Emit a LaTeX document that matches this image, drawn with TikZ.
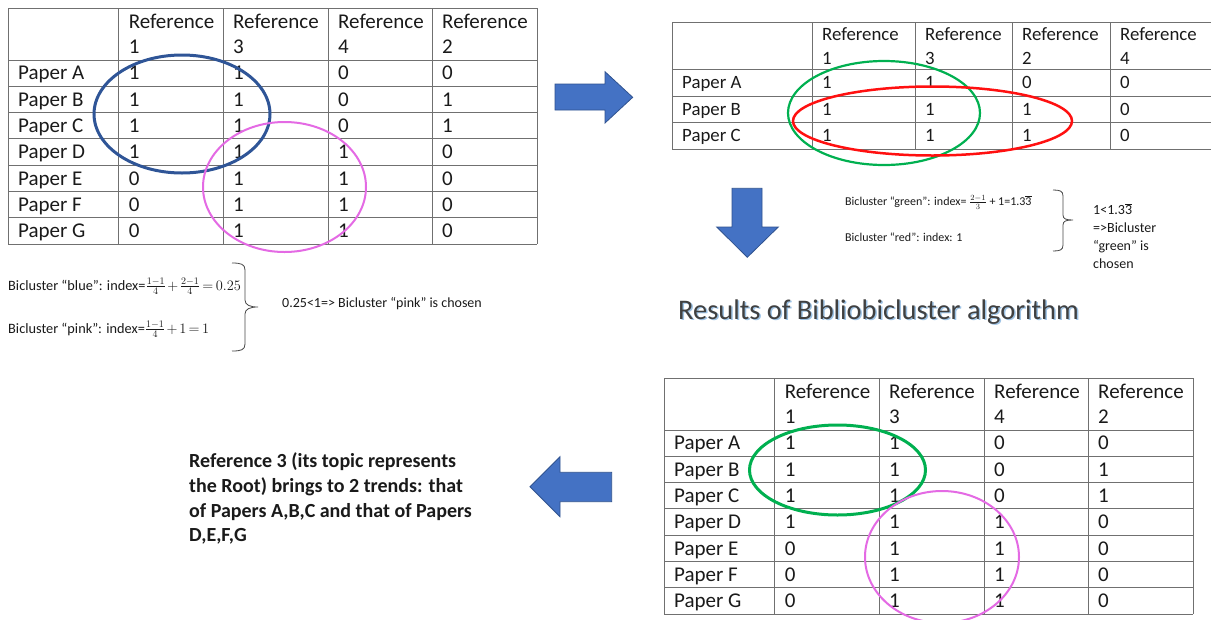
\documentclass[tikz,border=0pt]{standalone}
\usepackage{fontspec}
\setmainfont{Carlito}
\definecolor{gridline}{HTML}{707070}
\definecolor{txt}{HTML}{1A1A1A}
\definecolor{arrowfill}{HTML}{4472C4}
\definecolor{arrowline}{HTML}{2F528F}
\definecolor{ellblue}{HTML}{2F5597}
\definecolor{ellpink}{HTML}{E46AE4}
\definecolor{ellgreen}{HTML}{00B050}
\definecolor{ellred}{HTML}{FF1010}
\definecolor{titlegray}{HTML}{404040}
\definecolor{titleglow}{HTML}{9DC3E6}
\newcommand{\tightmath}[1]{{\medmuskip=2mu\thickmuskip=3mu$#1$}}
\tikzset{
  gridrule/.style={draw=gridline, line width=0.8pt},
  cellbig/.style={anchor=base west, inner sep=0pt, text=txt, font=\fontsize{21}{25}\selectfont},
  cellsmall/.style={anchor=base west, inner sep=0pt, text=txt, font=\fontsize{18.8}{23}\selectfont},
  formula/.style={anchor=base west, inner sep=0pt, text=txt, font=\fontsize{14.3}{17}\selectfont},
  choicetext/.style={anchor=base west, inner sep=0pt, text=txt, font=\fontsize{14}{17}\selectfont},
  formulasmall/.style={anchor=base west, inner sep=0pt, text=txt, font=\fontsize{12}{15}\selectfont},
  bigarrow/.style={fill=arrowfill, draw=arrowline, line width=0.8pt, line join=miter},
  bracepath/.style={draw=txt!80, line width=0.8pt},
  remark/.style={anchor=base west, inner sep=0pt, text=txt, font=\bfseries\fontsize{20}{24.5}\selectfont},
}
\newcommand{\bigbibtable}[1]{%
  \foreach \yy in {0,52,78.29,104.57,130.86,157.14,183.43,209.71,236} {\draw[gridrule] (0,\yy) -- (529,\yy);}
  \foreach \xx in {0,110.6,215,320,424,529} {\draw[gridrule] (\xx,0) -- (\xx,236);}
  \foreach \hn/\hx [count=\k] in {1/120.6,3/225,4/330,2/434} {
    \node[cellbig] (#1-h\k) at (\hx,20.8) {Reference};
    \node[cellbig] (#1-n\k) at (\hx,45.8) {\hn};
  }
  \foreach \p/\va/\vb/\vc/\vd [count=\r] in {A/1/1/0/0,B/1/1/0/1,C/1/1/0/1,D/1/1/1/0,E/0/1/1/0,F/0/1/1/0,G/0/1/1/0} {
    \pgfmathsetmacro{\by}{52+(\r-0.5)*26.286+6.8}
    \node[cellbig] (#1-p\r) at (10,\by) {Paper \p};
    \node[cellbig] (#1-\r-1) at (120.6,\by) {\va};
    \node[cellbig] (#1-\r-2) at (225,\by) {\vb};
    \node[cellbig] (#1-\r-3) at (330,\by) {\vc};
    \node[cellbig] (#1-\r-4) at (434,\by) {\vd};
  }
}
\begin{document}
\begin{tikzpicture}[x=1pt,y=-1pt]
\useasboundingbox (0,0) rectangle (1211,619);
\fill[white] (0,0) rectangle (1211,619);

% ---------- top-left table ----------
\begin{scope}[shift={(8,8)}]
  \bigbibtable{tl}
\end{scope}
\draw[ellblue, line width=3pt] (182,114) ellipse [x radius=88pt, y radius=59pt];
\draw[ellpink, line width=2pt] (284.5,187) ellipse [x radius=81.5pt, y radius=65pt];

% ---------- formulas left ----------
\node[formula] (fblue) at (8,290) {Bicluster “blue”: index=\tightmath{\frac{1-1}{4}+\frac{2-1}{4}=0.25}};
\node[formula] (fpink) at (8,333) {Bicluster “pink”: index=\tightmath{\frac{1-1}{4}+1=1}};
\draw[bracepath] (232,263) .. controls (241,263) and (245,264) .. (245,270) -- (245,300)
  .. controls (245,305) and (250,307) .. (258,307)
  .. controls (250,307) and (245,309) .. (245,314) -- (245,344)
  .. controls (245,350) and (241,351) .. (232,351);
\node[choicetext] (fchoice) at (282,307) {0.25<1=> Bicluster “pink” is chosen};

% ---------- right arrow ----------
\draw[bigarrow] (555,84) -- (605,84) -- (605,71.7) -- (632.7,97.3) -- (605,123) -- (605,110) -- (555,110) -- cycle;

% ---------- top-right table ----------
\begin{scope}[shift={(672,22)}]
  \foreach \yy in {0,47.5,74,100.5,127} {\draw[gridrule] (0,\yy) -- (539,\yy);}
  \foreach \xx in {0,140,243,340,438} {\draw[gridrule] (\xx,0) -- (\xx,127);}
  \foreach \hn/\hx [count=\k] in {1/150,3/253,2/350,4/448} {
    \node[cellsmall] (tr-h\k) at (\hx,18) {Reference};
    \node[cellsmall] (tr-n\k) at (\hx,42.3) {\hn};
  }
  \foreach \p/\va/\vb/\vc/\vd [count=\r] in {A/1/1/0/0,B/1/1/1/0,C/1/1/1/0} {
    \pgfmathsetmacro{\by}{47.5+(\r-0.5)*26.5+6}
    \node[cellsmall] (tr-p\r) at (10,\by) {Paper \p};
    \node[cellsmall] (tr-\r-1) at (150,\by) {\va};
    \node[cellsmall] (tr-\r-2) at (253,\by) {\vb};
    \node[cellsmall] (tr-\r-3) at (350,\by) {\vc};
    \node[cellsmall] (tr-\r-4) at (448,\by) {\vd};
  }
\end{scope}
\draw[ellgreen, line width=2.2pt] (884,113) ellipse [x radius=96pt, y radius=52pt];
\draw[ellred, line width=2.5pt] (932.5,121) ellipse [x radius=139.5pt, y radius=34.5pt];

% ---------- down arrow ----------
\draw[bigarrow] (732,188.3) -- (762,188.3) -- (762,227) -- (778.3,227) -- (747.3,257.3) -- (716.7,227) -- (732,227) -- cycle;

% ---------- formulas right ----------
\node[formulasmall] (fgreen) at (845,205) {Bicluster “green”: index= $\frac{2-1}{3}$ + 1=1.3$\overline{\mbox{3}}$};
\node[formulasmall] (fred) at (845,241) {Bicluster “red”: index: 1};
\draw[bracepath] (1053,190) .. controls (1060,190) and (1063,191) .. (1063,196) -- (1063,215)
  .. controls (1063,219) and (1066,220) .. (1073,220)
  .. controls (1066,220) and (1063,221) .. (1063,225) -- (1063,245)
  .. controls (1063,250) and (1060,251) .. (1053,251);
\node[choicetext] (rc1) at (1093,214.5) {1<1.3$\overline{\mbox{3}}$};
\node[choicetext] (rc2) at (1093,232.5) {=>Bicluster};
\node[choicetext] (rc3) at (1093,250.5) {“green” is};
\node[choicetext] (rc4) at (1093,268.5) {chosen};

% ---------- title ----------
\node[anchor=base west, inner sep=0pt, text=titleglow, font=\fontsize{28.4}{34}\selectfont] (titleshadow) at (679.5,320.5) {Results of Bibliobicluster algorithm};
\node[anchor=base west, inner sep=0pt, text=titlegray, font=\fontsize{28.4}{34}\selectfont] (title) at (678,319) {Results of Bibliobicluster algorithm};

% ---------- bottom-right table ----------
\begin{scope}[shift={(664,378)}]
  \bigbibtable{br}
\end{scope}
\draw[ellgreen, line width=3pt] (837.5,470) ellipse [x radius=88pt, y radius=45pt];
\draw[ellpink, line width=2pt] (942,557) ellipse [x radius=77pt, y radius=66pt];

% ---------- left arrow ----------
\draw[bigarrow] (611.7,472.3) -- (560,472.3) -- (560,456.7) -- (530,486.7) -- (560,516.7) -- (560,501.7) -- (611.7,501.7) -- cycle;

% ---------- conclusion text ----------
\node[remark] (c1) at (189,467) {Reference 3 (its topic represents};
\node[remark] (c2) at (189,492) {the Root) brings to 2 trends: that};
\node[remark] (c3) at (189,517) {of Papers A,B,C and that of Papers};
\node[remark] (c4) at (189,541.5) {D,E,F,G};
\end{tikzpicture}
\end{document}
